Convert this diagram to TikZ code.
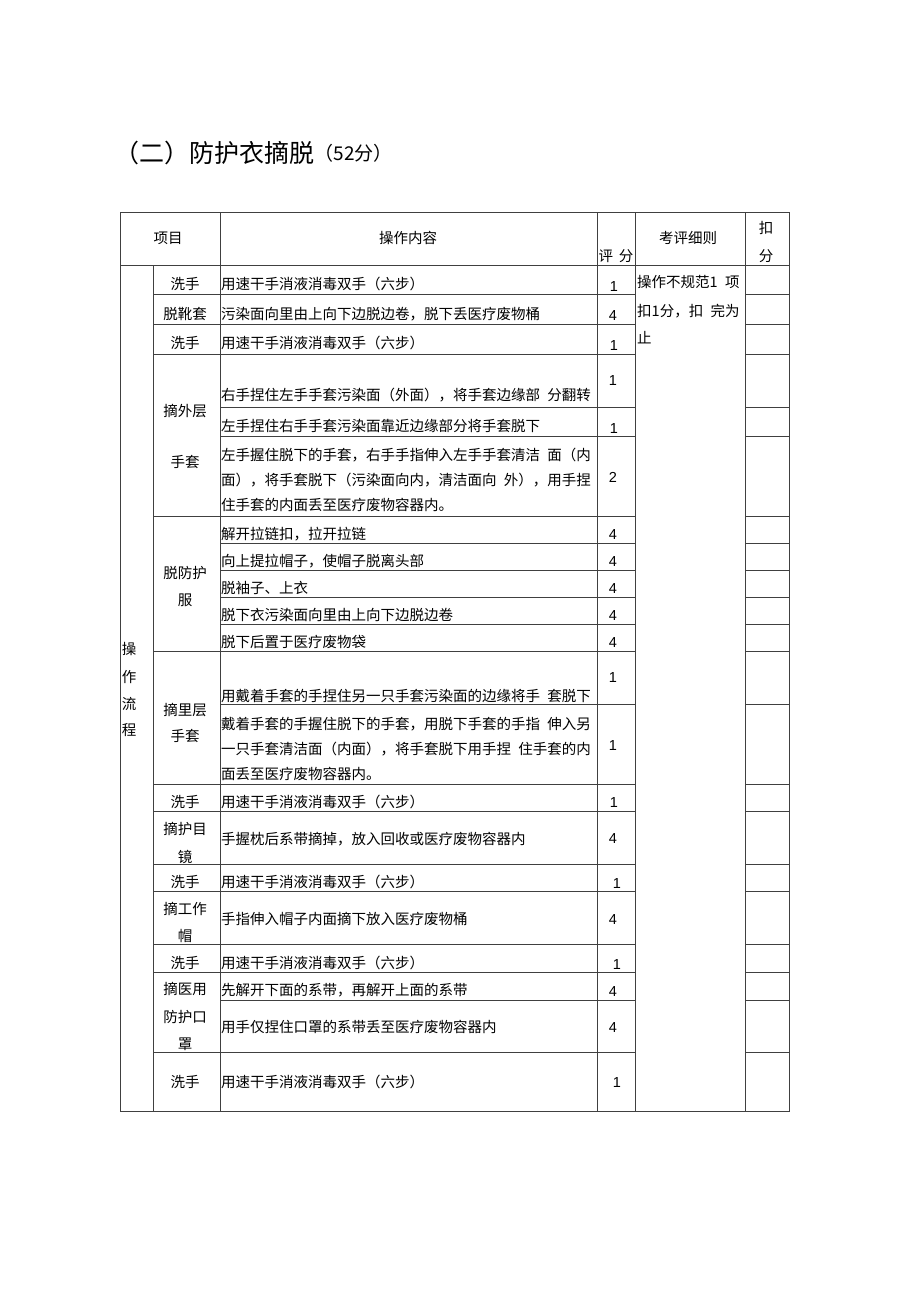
\documentclass[tikz,border=0pt]{standalone}
\usepackage{fontspec}
\setmainfont{Noto Sans CJK SC}
\newfontfamily\numf{Liberation Sans}
\newcommand{\gapsp}{\hspace{0.5em}}
\begin{document}
\begin{tikzpicture}[x=1pt,y=-1pt,
  font=\fontsize{14.5}{14.5}\selectfont,
  grid/.style={line width=0.9pt, draw=black!75},
  txt/.style={anchor=west, inner sep=0pt},
  ctr/.style={anchor=center, inner sep=0pt},
  num/.style={anchor=center, inner sep=0pt, font=\numf\fontsize{14.5}{14.5}\selectfont}]
\useasboundingbox[fill=white] (0,0) rectangle (920,1301);

% title
\node[anchor=west, inner sep=0pt, font=\fontsize{25}{25}\selectfont] (title) at (114,153) {（二）防护衣摘脱};
\node[anchor=west, inner sep=0pt, font=\fontsize{19}{19}\selectfont] (titlesub) at (title.east) {（52分）};

% outer frame and verticals
\draw[grid] (120,212) rectangle (789,1111);
\draw[grid] (120,265) -- (789,265);
\foreach \x in {220,597,635,745} \draw[grid] (\x,212) -- (\x,1111);
\draw[grid] (153,265) -- (153,1111);

% group lines
\foreach \y in {294,324,354,516,651,784,811,864,891,944,972,1052} {
  \draw[grid] (153,\y) -- (635,\y);
  \draw[grid] (745,\y) -- (789,\y);
}
% inner lines
\foreach \y in {407,436,543,570,597,624,704,1000} {
  \draw[grid] (220,\y) -- (635,\y);
  \draw[grid] (745,\y) -- (789,\y);
}

% header
\node[ctr] (h1) at (168,238) {项目};
\node[ctr] (h2) at (408,238) {操作内容};
\node[ctr] (h3) at (616,256) {评\hspace{0.4em}分};
\node[ctr] (h4) at (688,238) {考评细则};
\node[ctr] (h5a) at (766,228) {扣};
\node[ctr] (h5b) at (766,256) {分};

% 操作流程 vertical
\node[ctr] (v1) at (129,649) {操};
\node[ctr] (v2) at (129,677) {作};
\node[ctr] (v3) at (129,704) {流};
\node[ctr] (v4) at (129,730) {程};

% 考评细则 text
\node[txt] (k1) at (637,282) {操作不规范1\gapsp 项};
\node[txt] (k2) at (637,311) {扣1分，扣\gapsp 完为};
\node[txt] (k3) at (637,338) {止};

% item labels
\node[ctr] (l1) at (185,284) {洗手};
\node[ctr] (l2) at (185,314) {脱靴套};
\node[ctr] (l3) at (185,343) {洗手};
\node[ctr] (l4a) at (185,411) {摘外层};
\node[ctr] (l4b) at (185,462) {手套};
\node[ctr] (l5a) at (185,573) {脱防护};
\node[ctr] (l5b) at (185,600) {服};
\node[ctr] (l6a) at (185,710) {摘里层};
\node[ctr] (l6b) at (185,736) {手套};
\node[ctr] (l7) at (185,802) {洗手};
\node[ctr] (l8a) at (185,829) {摘护目};
\node[ctr] (l8b) at (185,857) {镜};
\node[ctr] (l9) at (185,882) {洗手};
\node[ctr] (l10a) at (185,909) {摘工作};
\node[ctr] (l10b) at (185,936) {帽};
\node[ctr] (l11) at (185,963) {洗手};
\node[ctr] (l12a) at (185,989) {摘医用};
\node[ctr] (l12b) at (185,1017) {防护口};
\node[ctr] (l12c) at (185,1044) {罩};
\node[ctr] (l13) at (185,1082) {洗手};

% contents
\node[txt] (c1) at (221,284) {用速干手消液消毒双手（六步）};
\node[txt] (c2) at (221,314) {污染面向里由上向下边脱边卷，脱下丢医疗废物桶};
\node[txt] (c3) at (221,343) {用速干手消液消毒双手（六步）};
\node[txt] (c4a) at (221,395) {右手捏住左手手套污染面（外面），将手套边缘部\gapsp 分翻转};
\node[txt] (c4b) at (221,426) {左手捏住右手手套污染面靠近边缘部分将手套脱下};
\node[txt] (c4c1) at (221,455) {左手握住脱下的手套，右手手指伸入左手手套清洁\gapsp 面（内};
\node[txt] (c4c2) at (221,480) {面），将手套脱下（污染面向内，清洁面向\gapsp 外），用手捏};
\node[txt] (c4c3) at (221,505) {住手套的内面丢至医疗废物容器内。};
\node[txt] (c5a) at (221,534) {解开拉链扣，拉开拉链};
\node[txt] (c5b) at (221,561) {向上提拉帽子，使帽子脱离头部};
\node[txt] (c5c) at (221,588) {脱袖子、上衣};
\node[txt] (c5d) at (221,615) {脱下衣污染面向里由上向下边脱边卷};
\node[txt] (c5e) at (221,642) {脱下后置于医疗废物袋};
\node[txt] (c6a) at (221,696) {用戴着手套的手捏住另一只手套污染面的边缘将手\gapsp 套脱下};
\node[txt] (c6b1) at (221,724) {戴着手套的手握住脱下的手套，用脱下手套的手指\gapsp 伸入另};
\node[txt] (c6b2) at (221,749) {一只手套清洁面（内面），将手套脱下用手捏\gapsp 住手套的内};
\node[txt] (c6b3) at (221,774) {面丢至医疗废物容器内。};
\node[txt] (c7) at (221,802) {用速干手消液消毒双手（六步）};
\node[txt] (c8) at (221,839) {手握枕后系带摘掉，放入回收或医疗废物容器内};
\node[txt] (c9) at (221,882) {用速干手消液消毒双手（六步）};
\node[txt] (c10) at (221,919) {手指伸入帽子内面摘下放入医疗废物桶};
\node[txt] (c11) at (221,963) {用速干手消液消毒双手（六步）};
\node[txt] (c12a) at (221,990) {先解开下面的系带，再解开上面的系带};
\node[txt] (c12b) at (221,1027) {用手仅捏住口罩的系带丢至医疗废物容器内};
\node[txt] (c13) at (221,1082) {用速干手消液消毒双手（六步）};

% scores
\node[num] (s1) at (614,287) {1};
\node[num] (s2) at (613,316) {4};
\node[num] (s3) at (614,346) {1};
\node[num] (s4a) at (613,381) {1};
\node[num] (s4b) at (614,429) {1};
\node[num] (s4c) at (613,477) {2};
\node[num] (s5a) at (613,535) {4};
\node[num] (s5b) at (613,562) {4};
\node[num] (s5c) at (613,589) {4};
\node[num] (s5d) at (613,616) {4};
\node[num] (s5e) at (613,643) {4};
\node[num] (s6a) at (613,678) {1};
\node[num] (s6b) at (613,746) {1};
\node[num] (s7) at (614,803) {1};
\node[num] (s8) at (613,839) {4};
\node[num] (s9) at (617,883) {1};
\node[num] (s10) at (613,919) {4};
\node[num] (s11) at (617,964) {1};
\node[num] (s12a) at (613,991) {4};
\node[num] (s12b) at (613,1027) {4};
\node[num] (s13) at (617,1082) {1};
\end{tikzpicture}
\end{document}
